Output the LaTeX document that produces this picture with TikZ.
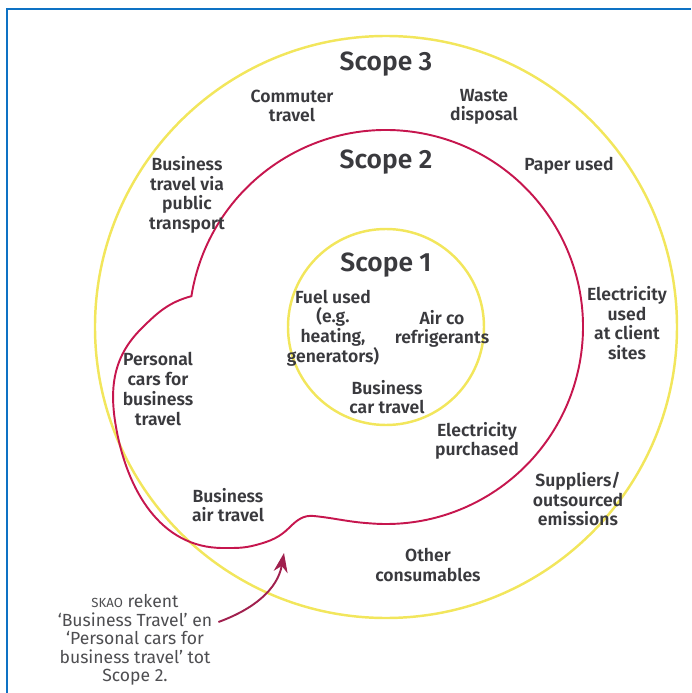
\documentclass[tikz,border=0pt]{standalone}
\usepackage{fontspec}
\setmainfont{Fira Sans}
\newfontfamily\labelfont{Fira Sans SemiBold}
\usetikzlibrary{arrows.meta}

\definecolor{frameblue}{RGB}{14,114,196}
\definecolor{ringyellow}{RGB}{242,230,92}
\definecolor{scopered}{RGB}{198,22,78}
\definecolor{arrowred}{RGB}{160,32,78}
\definecolor{labelgray}{RGB}{58,58,62}

\tikzset{
  ring/.style={draw=ringyellow, line width=1.4pt},
  scopeline/.style={draw=scopered, line width=1.1pt},
  scopetitle/.style={font=\labelfont\fontsize{15}{18}\selectfont, text=labelgray},
  item/.style={font=\labelfont\fontsize{10}{11.2}\selectfont, text=labelgray, align=center, inner sep=1pt},
  remark/.style={font=\fontsize{10}{10.6}\selectfont, text=labelgray!90, align=center},
  remarkarrow/.style={draw=arrowred, line width=1.1pt, -{Stealth[length=11pt,width=8pt]}},
  frame/.style={draw=frameblue, line width=1.5pt}
}

\begin{document}
\begin{tikzpicture}[x=0.02cm, y=0.02cm]
        \useasboundingbox (-386,-366) rectangle (305,327);
        \draw[frame] (-379,-366) -- (-379,318) -- (305,318);

        \draw[ring] (0,0) circle[radius=291];
        \draw[ring] (0,0) circle[radius=98];
        \draw[scopeline] (171:197) arc[start angle=171, end angle=-95, radius=197]
            to[out=176, in=-6] (-72,-189)
            to[out=174, in=45] (-96,-200)
            to[out=225, in=15] (-130,-218)
            to[out=195, in=0] (-163,-221)
            to[out=180, in=-80] (-270,-100)
            to[out=100, in=225] (-245,-2)
            to[out=45, in=195] (171:197) -- cycle;

        \node[scopetitle] (scope3) at (0,263) {Scope 3};
        \node[scopetitle] (scope2) at (0,165) {Scope 2};
        \node[scopetitle] (scope1) at (0,62) {Scope 1};

        \node[item] (commuter) at (-94,221) {Commuter\\travel};
        \node[item] (waste) at (98,220) {Waste\\disposal};
        \node[item] (paper) at (183,161) {Paper used};
        \node[item] (publictransport) at (-199,132) {Business\\travel via\\public\\transport};
        \node[item] (fuel) at (-53,-1) {Fuel used\\(e.g.\\heating,\\generators)};
        \node[item] (aircon) at (56,-2) {Air co\\refrigerants};
        \node[item] (cartravel) at (1,-70) {Business\\car travel};
        \node[item] (elecpurchased) at (91,-114) {Electricity\\purchased};
        \node[item] (elecclient) at (241,4) {Electricity\\used\\at client\\sites};
        \node[item] (suppliers) at (192,-172) {Suppliers/\\outsourced\\emissions};
        \node[item] (consumables) at (42,-238) {Other\\consumables};
        \node[item] (personalcars) at (-228,-62) {Personal\\cars for\\business\\travel};
        \node[item] (airtravel) at (-158,-178) {Business\\air travel};

        \node[remark] (skao) at (-251,-313) {{\fontsize{7.5}{9}\selectfont SKAO} rekent\\`Business Travel' en\\`Personal cars for\\business travel' tot\\Scope 2.};
        \coordinate (tip) at (-102,-226);
        \draw[remarkarrow] ([yshift=0.36cm]skao.east) to[out=20, in=-100] (tip);
\end{tikzpicture}
\end{document}
